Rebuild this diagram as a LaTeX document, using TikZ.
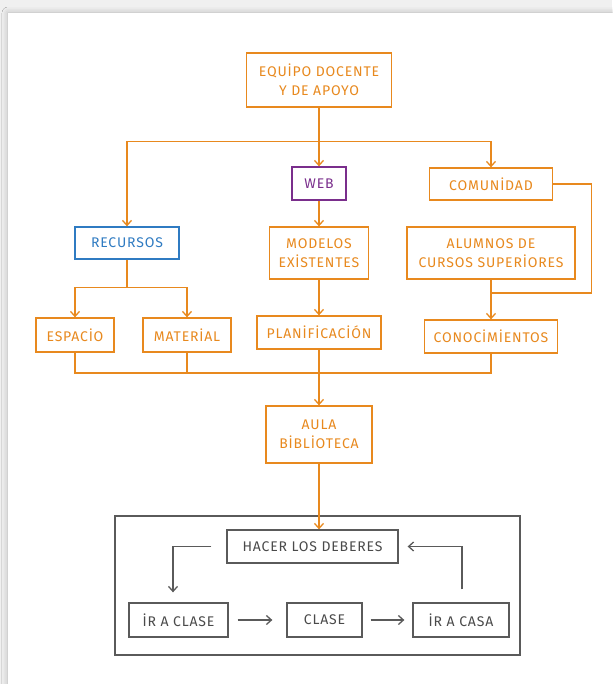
\documentclass[tikz,border=0pt]{standalone}
\usepackage{fontspec}
\setmainfont{Fira Sans}[LetterSpace=6]
\usetikzlibrary{arrows.meta,shadows.blur}
\definecolor{ora}{HTML}{E8891E}
\definecolor{blu}{HTML}{2F7BC2}
\definecolor{pur}{HTML}{7A2E8C}
\definecolor{gry}{HTML}{5A5A5A}
\definecolor{gtext}{HTML}{4A4A4A}
\tikzset{
  card/.style={rectangle, inner sep=0pt, align=center, line width=1.3pt,
    font=\fontsize{14}{19}\selectfont},
  obox/.style={card, draw=ora, text=ora},
  bbox/.style={card, draw=blu, text=blu},
  pbox/.style={card, draw=pur, text=pur},
  gbox/.style={card, draw=gry, text=gtext},
  tip/.style={-{Straight Barb[length=5pt,width=9pt]}},
  oline/.style={draw=ora, line width=1.3pt},
  oarrow/.style={oline, tip},
  gline/.style={draw=gry, line width=1.3pt},
  garrow/.style={gline, tip},
}
\begin{document}
\begin{tikzpicture}[x=1pt, y=-1pt]
  \useasboundingbox (0,0) rectangle (612,684);
  % page backdrop and sheet
  \fill[black!6] (0,0) rectangle (612,684);
  \fill[white, blur shadow={shadow xshift=0pt, shadow yshift=0pt,
    shadow blur radius=6pt, shadow opacity=25}] (8,13) rectangle (660,720);

  % top level
  \node[obox, minimum width=145, minimum height=54] (equipo) at (319,80)
    {EQUİPO DOCENTE\\Y DE APOYO};
  \node[pbox, minimum width=54, minimum height=33] (web) at (319,183.5) {WEB};
  \node[obox, minimum width=123, minimum height=32] (comunidad) at (491,184) {COMUNİDAD};
  \node[bbox, minimum width=104, minimum height=32] (recursos) at (127,243) {RECURSOS};
  \node[obox, minimum width=99, minimum height=52] (modelos) at (319,253)
    {MODELOS\\EXİSTENTES};
  \node[obox, minimum width=168, minimum height=52] (alumnos) at (491,253)
    {ALUMNOS DE\\CURSOS SUPERİORES};

  % second level
  \node[obox, minimum width=78, minimum height=34] (espacio) at (75,335) {ESPACİO};
  \node[obox, minimum width=88, minimum height=34] (material) at (187,335) {MATERİAL};
  \node[obox, minimum width=124, minimum height=33] (planif) at (319,332.5) {PLANİFİCACİÓN};
  \node[obox, minimum width=133, minimum height=33] (conoc) at (491,336.5) {CONOCİMİENTOS};
  \node[obox, minimum width=106, minimum height=57] (aula) at (319,434.5)
    {AULA\\BİBLİOTECA};

  % daily cycle
  \node[gline, rectangle, minimum width=405, minimum height=139] (frame) at (317.5,585.5) {};
  \node[gbox, minimum width=171, minimum height=33] (hacer) at (312.5,546.5) {HACER LOS DEBERES};
  \node[gbox, minimum width=99, minimum height=34] (irclase) at (178.5,620) {İR A CLASE};
  \node[gbox, minimum width=75, minimum height=34] (clase) at (324.5,620) {CLASE};
  \node[gbox, minimum width=96, minimum height=34] (ircasa) at (461,620) {İR A CASA};

  % connectors from the team box
  \draw[oarrow] (equipo.south) -- ++(0,34) -| (recursos.north);
  \draw[oarrow] (equipo.south) -- ++(0,34) -| (comunidad.north);
  \draw[oarrow] (equipo.south) -- (web.north);
  \draw[oarrow] (web.south) -- (modelos.north);
  \draw[oarrow] (modelos.south) -- (planif.north);

  % resources split
  \draw[oarrow] (recursos.south) -- ++(0,28) -| (espacio.north);
  \draw[oarrow] (recursos.south) -- ++(0,28) -| (material.north);

  % community and older students
  \coordinate (cjoin) at (491,293);
  \draw[oline] (comunidad.east) -- ++(38,0) |- (cjoin);
  \draw[oarrow] (alumnos.south) -- (conoc.north);

  % merge into the library classroom
  \coordinate (mjoin) at (319,373);
  \draw[oline] (espacio.south) -- (espacio.south |- mjoin) -| (conoc.south);
  \draw[oline] (material.south) -- (material.south |- mjoin);
  \draw[oarrow] (planif.south) -- (aula.north);
  \draw[oarrow] (aula.south) -- (aula.south |- hacer.north);

  % cycle arrows
  \draw[garrow] ([xshift=-15pt]hacer.west) -| ([xshift=-5.5pt, yshift=10pt]irclase.north);
  \draw[garrow] ([xshift=9pt]irclase.east) -- ([xshift=-14pt]clase.west);
  \draw[garrow] ([xshift=8pt]clase.east) -- ([xshift=-8pt]ircasa.west);
  \draw[garrow] ([xshift=1pt, yshift=13pt]ircasa.north) |- ([xshift=9pt]hacer.east);
\end{tikzpicture}
\end{document}
